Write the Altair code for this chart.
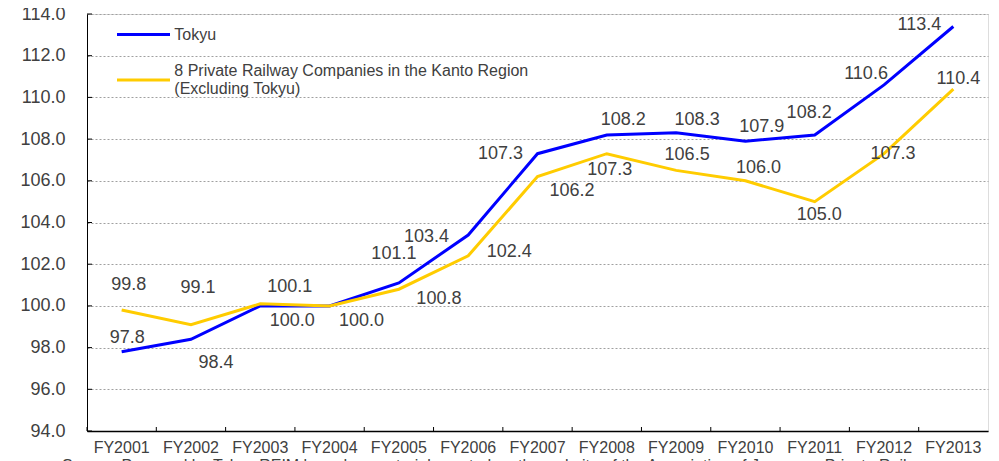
import altair as alt
import pandas as pd

# ---------------- data ----------------
years = ["FY2001", "FY2002", "FY2003", "FY2004", "FY2005", "FY2006", "FY2007",
         "FY2008", "FY2009", "FY2010", "FY2011", "FY2012", "FY2013"]
tokyu = [97.8, 98.4, 100.0, 100.0, 101.1, 103.4, 107.3, 108.2, 108.3, 107.9, 108.2, 110.6, 113.4]
kanto = [99.8, 99.1, 100.1, 100.0, 100.8, 102.4, 106.2, 107.3, 106.5, 106.0, 105.0, 107.3, 110.4]
series_names = ["Tokyu", "8 Private Railway Companies in the Kanto Region (Excluding Tokyu)"]
y_ticks = [94, 96, 98, 100, 102, 104, 106, 108, 110, 112, 114]
source_note = ["Source: Prepared by Tokyu REIM based on materials posted on the website "
               "of the Association of Japanese Private Railways"]

# ---------------- label layout (pixel offsets from each point) ----------------
tokyu_dx = [5.5, 25, 32, 32, -5, -41.6, -37, 16.5, 21, 16.4, -5.6, -18, -34]
tokyu_dy = [-14, 24, 15, 15, -29, 1.5, 0, -15.4, -13, -14.5, -22, -11, -1.5]
kanto_dx = [7, 7, 29.5, 32, 40, 41, 34.6, 3, 11, 13, 4.5, 9, 5]
kanto_dy = [-25, -37, -16.5, 15, 10, -3.7, 14, 16, -15, -13, 13, 0, -10]
kanto_show = [1, 1, 1, 0, 1, 1, 1, 1, 1, 1, 1, 1, 1]

series_colors = ["#0000FF", "#FFCC00"]
FONT = "Liberation Sans"
TXT = "#404040"
W, H = 901, 417
STEP = W / len(years)

rows = []
for i, y in enumerate(years):
    rows.append({"year": y, "series": series_names[0], "value": tokyu[i],
                 "dx": tokyu_dx[i], "dy": tokyu_dy[i], "show": 1})
    rows.append({"year": y, "series": series_names[1], "value": kanto[i],
                 "dx": kanto_dx[i], "dy": kanto_dy[i], "show": kanto_show[i]})
df = pd.DataFrame(rows)

xscale = alt.Scale(type="band", domain=years, paddingInner=0, paddingOuter=0)
yscale = alt.Scale(domain=[94, 114], nice=False, zero=False)
cscale = alt.Scale(domain=series_names, range=series_colors)

x_axis = alt.Axis(title=None, labelAngle=0, labelFontSize=16, labelFont=FONT,
                  labelColor=TXT, labelPadding=16, labelBaseline="middle",
                  ticks=False, tickSize=0,
                  domainColor="black", domainWidth=1.5, grid=False)
y_axis = alt.Axis(title=None, values=y_ticks, format=".1f", labelFontSize=18,
                  labelFont=FONT, labelColor=TXT, labelPadding=22, ticks=False,
                  tickSize=0, domainColor="black", domainWidth=1,
                  grid=True, gridColor="#a0a0a0", gridDash=[2, 2], gridWidth=1)

base = alt.Chart(df)

line_tokyu = base.transform_filter(alt.datum.series == series_names[0]).mark_line(
    strokeWidth=3
).encode(
    x=alt.X("year:N", scale=xscale, sort=years, axis=x_axis),
    y=alt.Y("value:Q", scale=yscale, axis=y_axis),
    color=alt.Color("series:N", scale=cscale, legend=None),
)

line_kanto = base.transform_filter(alt.datum.series == series_names[1]).mark_line(
    strokeWidth=3
).encode(
    x=alt.X("year:N", scale=xscale, sort=years),
    y=alt.Y("value:Q", scale=yscale),
    color=alt.Color("series:N", scale=cscale, legend=None),
)

labels = base.transform_filter("datum.show == 1").mark_text(
    fontSize=18, font=FONT, color=TXT, align="center", baseline="middle",
    dx={"expr": "datum.dx"}, dy={"expr": "datum.dy"},
).encode(
    x=alt.X("year:N", scale=xscale, sort=years),
    y=alt.Y("value:Q", scale=yscale),
    text=alt.Text("value:Q", format=".1f"),
)

ytick_rules = alt.Chart(pd.DataFrame({"value": y_ticks})).mark_rule(
    color="black", strokeWidth=1
).encode(
    y=alt.Y("value:Q", scale=yscale),
    x=alt.value(0), x2=alt.value(5),
)

# inward x ticks at category boundaries (half a band left of each centre)
xtick_rules = alt.Chart(pd.DataFrame({"year": years})).mark_rule(
    color="black", strokeWidth=1, xOffset=-STEP / 2
).encode(
    x=alt.X("year:N", scale=xscale, sort=years),
    y=alt.value(H - 4), y2=alt.value(H),
)

# ---------------- legend (drawn inside the plot, top-left) ----------------
legend_df = pd.DataFrame({"series": series_names})
leg_rows = [20.5, 66]          # symbol centre y for each entry
leg_text_y = [20.5, 57.2]      # first text line centre y for each entry


def legend_entry(k):
    src = alt.Chart(legend_df).transform_filter(alt.datum.series == series_names[k])
    sym = src.mark_rule(strokeWidth=3).encode(
        color=alt.Color("series:N", scale=cscale, legend=None),
        x=alt.value(30), x2=alt.value(83), y=alt.value(leg_rows[k]),
    )
    txt = src.transform_calculate(
        lbl="replace(datum.series, ' (', '\\n(')"
    ).mark_text(
        font=FONT, fontSize=16, color=TXT, align="left", baseline="middle",
        lineBreak="\n", lineHeight=17.6,
    ).encode(
        text="lbl:N", x=alt.value(87.3), y=alt.value(leg_text_y[k]),
    )
    return sym + txt


source = alt.Chart(pd.DataFrame({"note": source_note})).mark_text(
    font=FONT, fontSize=16, color=TXT, align="left", baseline="middle"
).encode(text="note:N", x=alt.value(-25), y=alt.value(H + 35))

chart = alt.layer(
    line_tokyu, ytick_rules, xtick_rules, line_kanto, labels,
    legend_entry(0), legend_entry(1), source,
).properties(
    width=W, height=H,
    autosize=alt.AutoSizeParams(type="none"),
    padding={"left": 79, "top": 6, "right": 3, "bottom": 42},
).configure_view(
    stroke="#808080", strokeWidth=1
).configure(background="white")

chart.save("out.html", embed_options={"renderer": "svg", "actions": False})
